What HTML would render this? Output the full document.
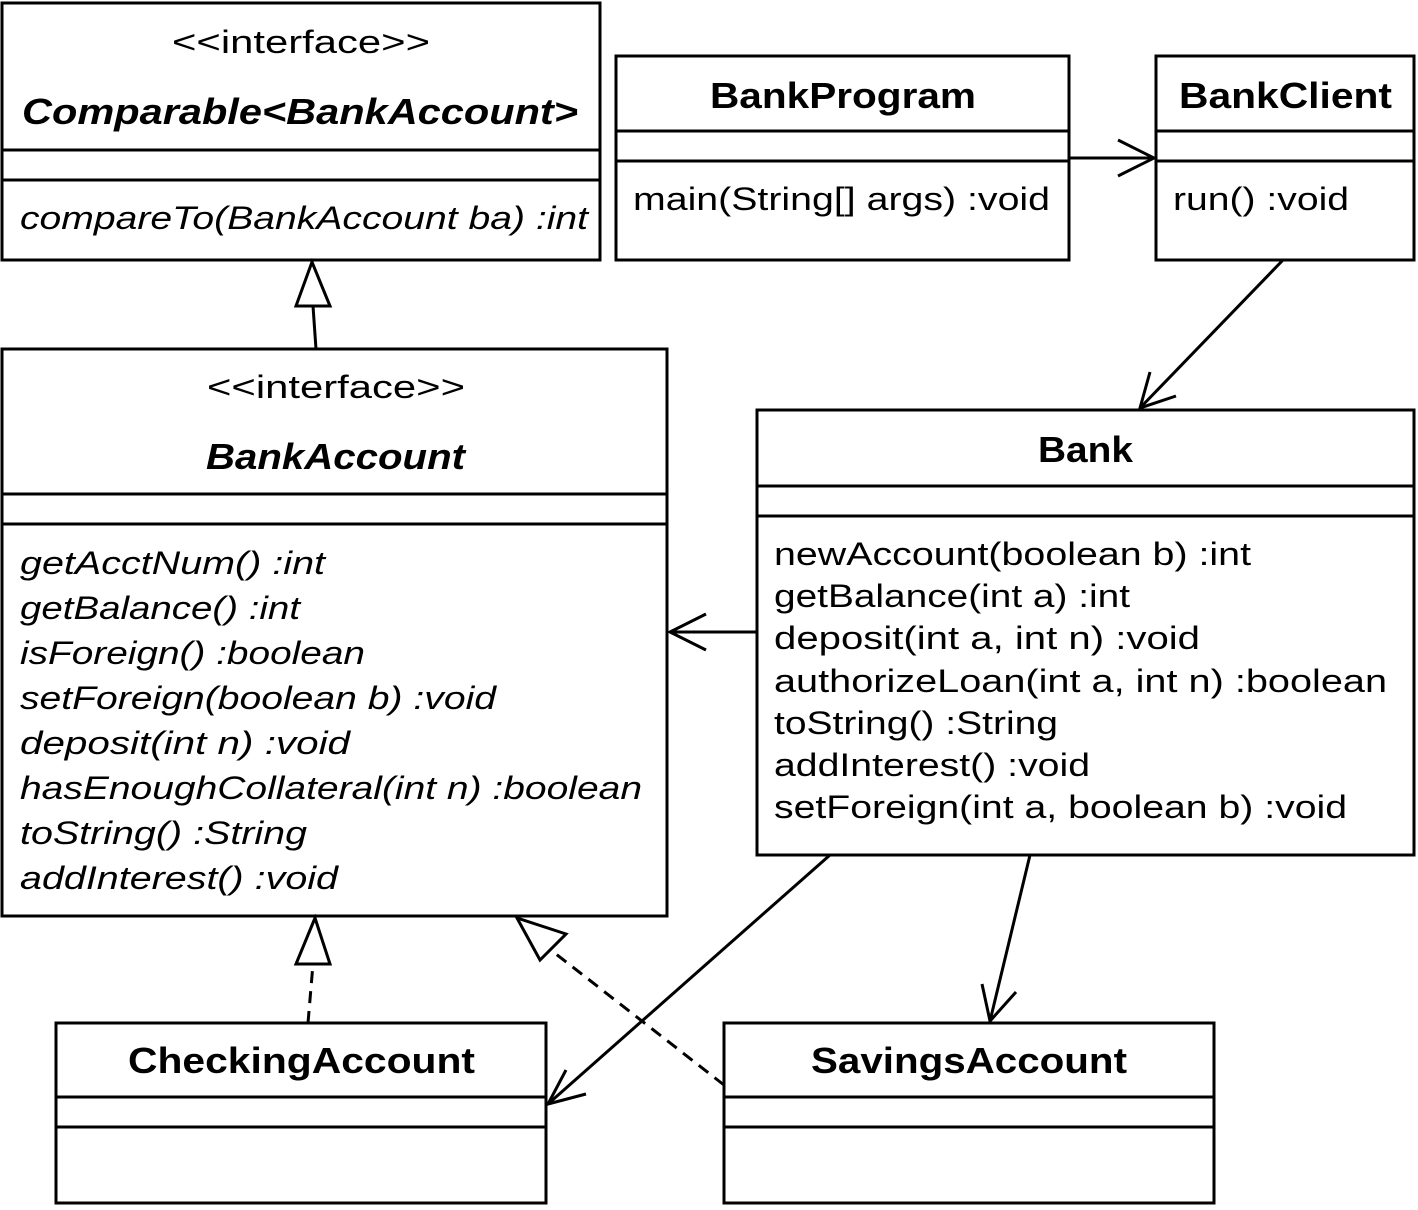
<!DOCTYPE html>
<html><head><meta charset="utf-8"><style>html,body{margin:0;padding:0;background:#fff}svg{display:block}</style></head>
<body>
<svg width="1418" height="1210" viewBox="0 0 1418 1210" xmlns="http://www.w3.org/2000/svg" font-family="Liberation Sans, sans-serif" font-size="32" fill="#000">
<g fill="none" stroke="#000" stroke-width="3">
<rect x="2" y="3" width="598" height="257"/><line x1="2" y1="150" x2="600" y2="150"/><line x1="2" y1="180" x2="600" y2="180"/>
<rect x="616" y="56" width="453" height="204"/><line x1="616" y1="131" x2="1069" y2="131"/><line x1="616" y1="161" x2="1069" y2="161"/>
<rect x="1156" y="56" width="258" height="204"/><line x1="1156" y1="131" x2="1414" y2="131"/><line x1="1156" y1="161" x2="1414" y2="161"/>
<rect x="2" y="349" width="665" height="567"/><line x1="2" y1="494" x2="667" y2="494"/><line x1="2" y1="524" x2="667" y2="524"/>
<rect x="757" y="410" width="657" height="445"/><line x1="757" y1="486" x2="1414" y2="486"/><line x1="757" y1="516" x2="1414" y2="516"/>
<rect x="56" y="1023" width="490" height="180"/><line x1="56" y1="1097" x2="546" y2="1097"/><line x1="56" y1="1127" x2="546" y2="1127"/>
<rect x="724" y="1023" width="490" height="180"/><line x1="724" y1="1097" x2="1214" y2="1097"/><line x1="724" y1="1127" x2="1214" y2="1127"/>
<!-- connectors -->
<line x1="316" y1="349" x2="313" y2="306"/><polygon points="312,262 296,306 330,306"/>
<line x1="1069" y1="158" x2="1154" y2="158"/><polyline points="1118,140 1154,158 1118,176"/>
<line x1="1283" y1="260" x2="1140" y2="408"/><polyline points="1150,372 1140,408 1176,396"/>
<line x1="757" y1="632" x2="670" y2="632"/><polyline points="706,614 670,632 706,650"/>
<line x1="830" y1="855" x2="548" y2="1104"/><polyline points="566,1070 548,1104 586,1094"/>
<line x1="1030" y1="855" x2="990" y2="1021"/><polyline points="982,984 990,1021 1016,992"/>
<line x1="308" y1="1023" x2="313" y2="964" stroke-dasharray="12,8"/><polygon points="315,918 296,964 330,964"/>
<line x1="724" y1="1085" x2="556" y2="954" stroke-dasharray="12,8"/><polygon points="517,918 540,960 566,934"/>
</g>
<g text-anchor="start" lengthAdjust="spacingAndGlyphs">
<text x="172" y="53" textLength="258" lengthAdjust="spacingAndGlyphs">&lt;&lt;interface&gt;&gt;</text>
<text x="22" y="124" font-weight="bold" font-style="italic" font-size="36" textLength="556" lengthAdjust="spacingAndGlyphs">Comparable&lt;BankAccount&gt;</text>
<text x="20" y="229" font-style="italic" textLength="568" lengthAdjust="spacingAndGlyphs">compareTo(BankAccount ba) :int</text>
<text x="710" y="108" font-weight="bold" font-size="36" textLength="266" lengthAdjust="spacingAndGlyphs">BankProgram</text>
<text x="633" y="210" textLength="417" lengthAdjust="spacingAndGlyphs">main(String[] args) :void</text>
<text x="1179" y="108" font-weight="bold" font-size="36" textLength="213" lengthAdjust="spacingAndGlyphs">BankClient</text>
<text x="1173" y="210" textLength="176" lengthAdjust="spacingAndGlyphs">run() :void</text>
<text x="207" y="398" textLength="258" lengthAdjust="spacingAndGlyphs">&lt;&lt;interface&gt;&gt;</text>
<text x="206" y="469" font-weight="bold" font-style="italic" font-size="36" textLength="259" lengthAdjust="spacingAndGlyphs">BankAccount</text>
<g font-style="italic">
<text x="20" y="574" textLength="305" lengthAdjust="spacingAndGlyphs">getAcctNum() :int</text>
<text x="20" y="619" textLength="280" lengthAdjust="spacingAndGlyphs">getBalance() :int</text>
<text x="20" y="664" textLength="345" lengthAdjust="spacingAndGlyphs">isForeign() :boolean</text>
<text x="20" y="709" textLength="476" lengthAdjust="spacingAndGlyphs">setForeign(boolean b) :void</text>
<text x="20" y="754" textLength="330" lengthAdjust="spacingAndGlyphs">deposit(int n) :void</text>
<text x="20" y="799" textLength="622" lengthAdjust="spacingAndGlyphs">hasEnoughCollateral(int n) :boolean</text>
<text x="20" y="844" textLength="287" lengthAdjust="spacingAndGlyphs">toString() :String</text>
<text x="20" y="889" textLength="318" lengthAdjust="spacingAndGlyphs">addInterest() :void</text>
</g>
<text x="1038" y="462" font-weight="bold" font-size="36" textLength="95" lengthAdjust="spacingAndGlyphs">Bank</text>
<text x="774" y="565" textLength="477" lengthAdjust="spacingAndGlyphs">newAccount(boolean b) :int</text>
<text x="774" y="607" textLength="356" lengthAdjust="spacingAndGlyphs">getBalance(int a) :int</text>
<text x="774" y="649" textLength="426" lengthAdjust="spacingAndGlyphs">deposit(int a, int n) :void</text>
<text x="774" y="692" textLength="613" lengthAdjust="spacingAndGlyphs">authorizeLoan(int a, int n) :boolean</text>
<text x="774" y="734" textLength="284" lengthAdjust="spacingAndGlyphs">toString() :String</text>
<text x="774" y="776" textLength="316" lengthAdjust="spacingAndGlyphs">addInterest() :void</text>
<text x="774" y="818" textLength="573" lengthAdjust="spacingAndGlyphs">setForeign(int a, boolean b) :void</text>
<text x="128" y="1073" font-weight="bold" font-size="36" textLength="347" lengthAdjust="spacingAndGlyphs">CheckingAccount</text>
<text x="811" y="1073" font-weight="bold" font-size="36" textLength="316" lengthAdjust="spacingAndGlyphs">SavingsAccount</text>
</g>
</svg>
</body></html>
